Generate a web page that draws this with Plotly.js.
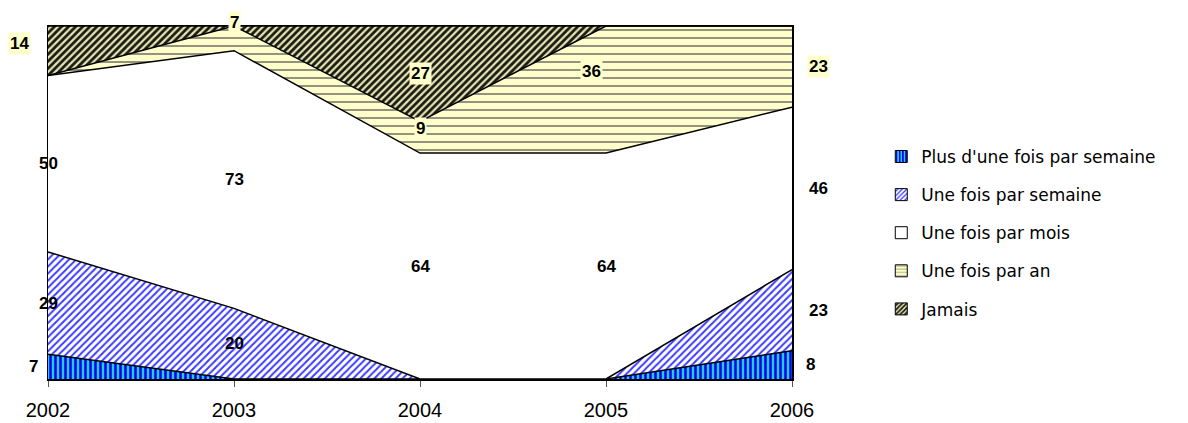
<!DOCTYPE html>
<html>
<head>
<meta charset="utf-8">
<script src="https://cdn.plot.ly/plotly-3.0.1.min.js"></script>
<style>html,body{margin:0;padding:0;background:#fff;}#chart{width:1188px;height:423px;}</style>
</head>
<body>
<div id="chart"></div>
<script>
const years = [2002, 2003, 2004, 2005, 2006];
const seriesNames = ["Plus d'une fois par semaine", "Une fois par semaine", "Une fois par mois", "Une fois par an", "Jamais"];
const plusUneFoisSemaine = [7, 0, 0, 0, 8];
const uneFoisSemaine = [29, 20, 0, 0, 23];
const uneFoisMois = [50, 73, 64, 64, 46];
const uneFoisAn = [0, 7, 9, 36, 23];
const jamais = [14, 0, 27, 0, 0];
const seriesValues = [plusUneFoisSemaine, uneFoisSemaine, uneFoisMois, uneFoisAn, jamais];

const patterns = [
  {shape: '|', fgcolor: '#0000dd', bgcolor: '#22ccff', size: 5, solidity: 0.5, fillmode: 'replace'},
  {shape: '/', fgcolor: '#3a3aff', bgcolor: '#ffffff', size: 5, solidity: 0.4, fillmode: 'replace'},
  null,
  {shape: '-', fgcolor: '#77776a', bgcolor: '#ffffcc', size: 8, solidity: 0.2, fillmode: 'replace'},
  {shape: '/', fgcolor: '#1a1a10', bgcolor: '#e6e6b8', size: 5, solidity: 0.55, fillmode: 'replace'}
];
const fills = ['#0000ff', '#9999ff', '#ffffff', '#ffffcc', '#666633'];

const traces = seriesNames.map((name, i) => {
  const t = {
    type: 'scatter', mode: 'lines', x: years, y: seriesValues[i], name: name,
    stackgroup: 'one', showlegend: false,
    line: {color: '#000000', width: 1.5, shape: 'linear'},
    fillcolor: fills[i], hoverinfo: 'skip'
  };
  if (patterns[i]) t.fillpattern = patterns[i];
  return t;
});
// legend entries (square swatches like the original), no drawn data
seriesNames.forEach((name, i) => {
  const m = {color: fills[i], line: {color: '#000', width: 1}};
  if (patterns[i]) m.pattern = Object.assign({}, patterns[i], {size: 4});
  traces.push({
    type: 'bar', x: [null], y: [null], name: name, marker: m,
    legendgroup: 'g' + i, showlegend: true, hoverinfo: 'skip'
  });
});

// label positions: mid-points of each band (some adjusted as in the picture)
const cum = years.map((_, j) => {
  let acc = 0; const out = [];
  seriesValues.forEach(s => { out.push(acc + s[j] / 2); acc += s[j]; });
  return out;
});
const annotations = [];
const yellowBg = [false, false, false, true, true];
const manual = {
  '0-4': {y: 95, xs: -29}, '0-0': {xs: -15}, '0-1': {xs: 0}, '0-2': {xs: 0},
  '1-3': {y: 100, ys: 4},
  '2-3': {y: 71}, '3-3': {y: 87, xs: -15},
  '4-0': {xs: 18}
};
years.forEach((yr, j) => {
  seriesValues.forEach((s, i) => {
    if (!s[j]) return;
    const m = manual[j + '-' + i] || {};
    annotations.push({
      x: yr, y: m.y !== undefined ? m.y : cum[j][i], xref: 'x', yref: 'y',
      text: '<b>' + s[j] + '</b>', showarrow: false,
      xshift: m.xs !== undefined ? m.xs : (j === 4 ? 26 : 0),
      yshift: m.ys || 0,
      font: {family: 'Arial, Liberation Sans, sans-serif', size: 17, color: '#000'},
      bgcolor: yellowBg[i] ? '#ffffcc' : 'rgba(0,0,0,0)', borderpad: 1
    });
  });
});

const layout = {
  width: 1188, height: 423,
  margin: {l: 48, r: 396, t: 26, b: 44, pad: 0},
  paper_bgcolor: '#ffffff', plot_bgcolor: '#ffffff',
  showlegend: true, barmode: 'stack',
  legend: {
    x: 1.12, xanchor: 'left', y: 0.68, yanchor: 'top',
    traceorder: 'grouped', tracegroupgap: 13,
    font: {family: 'DejaVu Sans, sans-serif', size: 17, color: '#000'},
    bgcolor: 'rgba(0,0,0,0)', itemwidth: 30
  },
  xaxis: {
    range: [2002, 2006], tickvals: years, ticktext: years.map(String),
    showgrid: false, zeroline: false, showline: true, mirror: true, linecolor: '#000', linewidth: 1.5,
    ticks: 'outside', ticklen: 6, tickcolor: '#555', tickwidth: 1, ticklabelstandoff: 6,
    tickfont: {family: 'Arial, Liberation Sans, sans-serif', size: 20, color: '#000'},
    fixedrange: true
  },
  yaxis: {
    range: [0, 100], showgrid: false, zeroline: false, showticklabels: false,
    showline: true, mirror: true, linecolor: '#000', linewidth: 1.5, ticks: '', fixedrange: true
  },
  annotations: annotations
};
Plotly.newPlot('chart', traces, layout, {staticPlot: true, displayModeBar: false});
</script>
</body>
</html>
